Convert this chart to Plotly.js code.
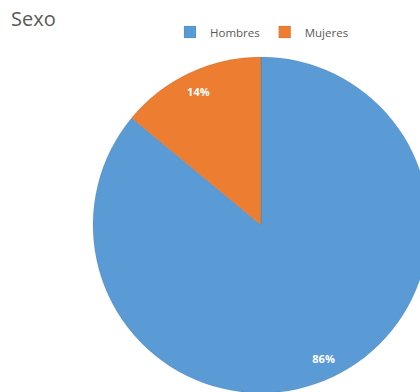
<!DOCTYPE html>
<html>
<head>
<meta charset="utf-8">
<script src="https://cdn.plot.ly/plotly-3.0.1.min.js"></script>
<style>
html,body{margin:0;padding:0;overflow:hidden;width:420px;height:392px;background:#fff;}
#chart{width:440px;height:400px;}
</style>
</head>
<body>
<div id="chart"></div>
<script>
const chartTitle = 'Sexo';
const categories = ['Hombres', 'Mujeres'];
const values = [86, 14];
const colors = ['#5B9BD5', '#ED7D31'];

const W = 440, H = 400;
const cx = 261, cy = 225, r = 168;
const FONT = '"Open Sans", Lato, sans-serif';
const domain = {x: [(cx - r) / W, (cx + r) / W], y: [1 - (cy + r) / H, 1 - (cy - r) / H]};

const slices = {
  type: 'pie',
  labels: categories,
  values: values,
  sort: false,
  direction: 'clockwise',
  rotation: 0,
  marker: {colors: colors, line: {color: 'rgba(0,0,0,0.08)', width: 1}},
  textinfo: 'none',
  domain: domain,
  hoverinfo: 'label+percent'
};

// transparent ring carrying the percentage labels near the outer edge (Excel-like placement)
const labelsRing = {
  type: 'pie',
  labels: categories,
  values: values,
  sort: false,
  direction: 'clockwise',
  rotation: 0,
  hole: 0.75,
  showlegend: false,
  marker: {colors: ['rgba(0,0,0,0)', 'rgba(0,0,0,0)'], line: {width: 0}},
  textinfo: 'percent',
  texttemplate: '%{percent:.0%}',
  textposition: 'inside',
  insidetextorientation: 'horizontal',
  textfont: {family: FONT, size: 11, color: '#ffffff', weight: 'bold'},
  domain: domain,
  hoverinfo: 'skip'
};

const layout = {
  width: W, height: H,
  margin: {l: 0, r: 0, t: 0, b: 0},
  paper_bgcolor: '#ffffff',
  font: {family: FONT, color: '#595959'},
  title: {text: chartTitle, x: 11 / W, xanchor: 'left', y: 1 - 19 / H, yanchor: 'middle',
          font: {size: 20, color: '#595959', family: FONT}},
  showlegend: true,
  legend: {orientation: 'h', x: 262 / W, xanchor: 'center', y: 1 - 32 / H, yanchor: 'middle',
           font: {size: 11.5, color: '#595959', family: FONT}, itemwidth: 30,
           bgcolor: 'rgba(0,0,0,0)'}
};

Plotly.newPlot('chart', [slices, labelsRing], layout, {displayModeBar: false, staticPlot: true});
</script>
</body>
</html>
